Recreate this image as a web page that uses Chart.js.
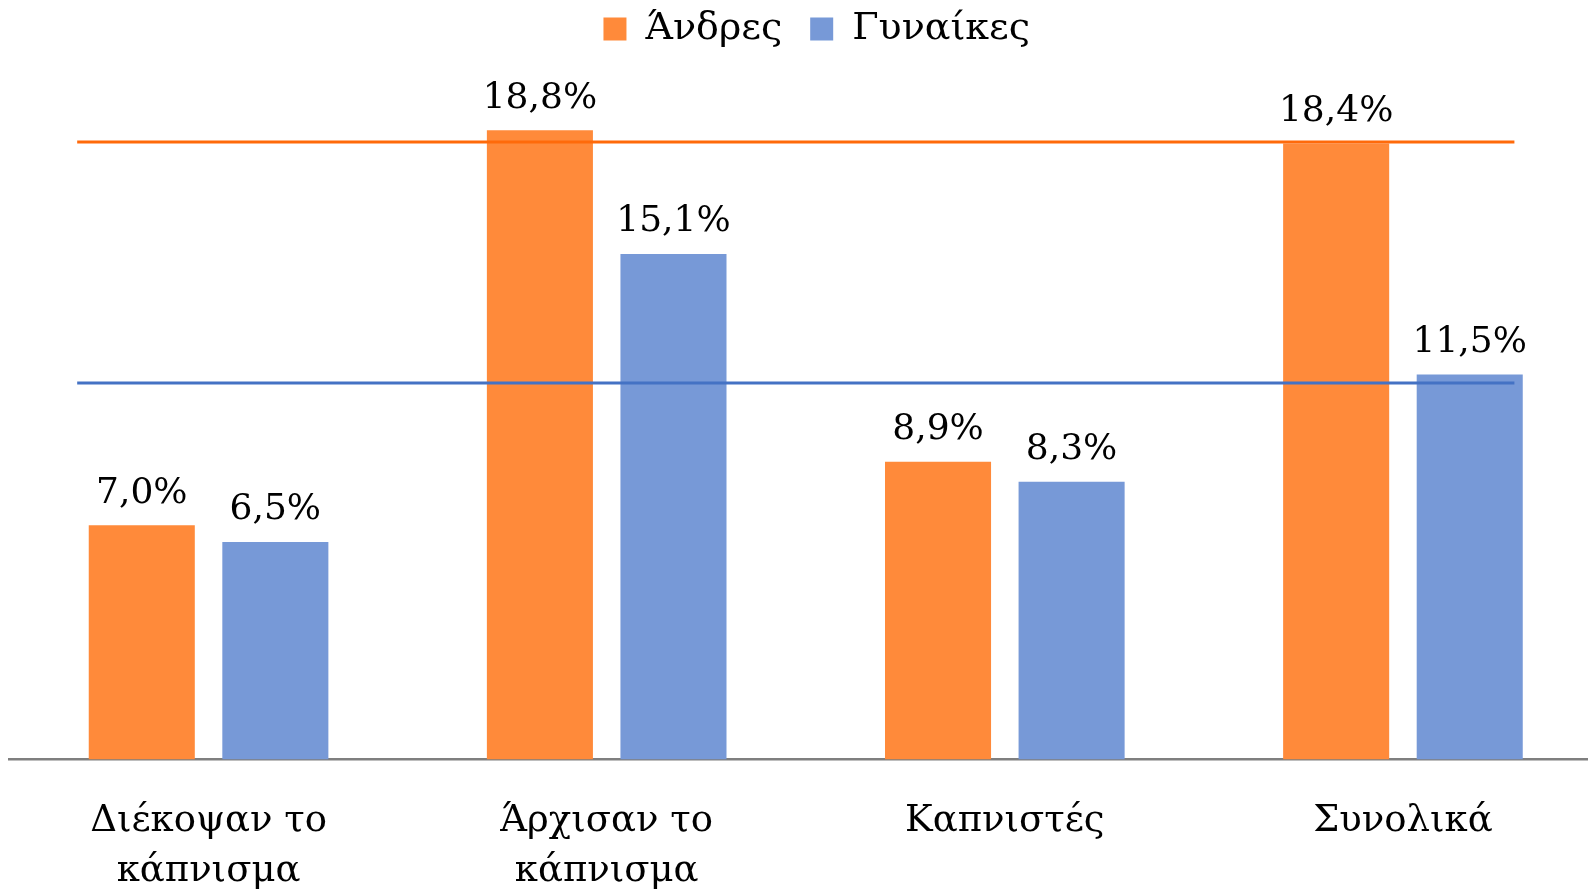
<!DOCTYPE html>
<html>
<head>
<meta charset="utf-8">
<script src="https://cdn.jsdelivr.net/npm/chart.js@4"></script>
<style>
    html, body { margin: 0; padding: 0; background: #fff; overflow: hidden; }
    #wrap { width: 1602px; height: 893px; }
</style>
</head>
<body>
<div id="wrap"><canvas id="smokeChart" width="1602" height="893"></canvas></div>
<script>
const categories = [['Διέκοψαν το', 'κάπνισμα'], ['Άρχισαν το', 'κάπνισμα'], 'Καπνιστές', 'Συνολικά'];
const seriesNames = ['Άνδρες', 'Γυναίκες'];
const menValues = [7.0, 18.8, 8.9, 18.4];
const womenValues = [6.5, 15.1, 8.3, 11.5];
// horizontal reference lines, span given in category units
const menRefLine = 18.45;
const womenRefLine = 11.25;
const refLineFrom = -0.33;
const refLineTo = 3.28;

const serif = '"DejaVu Serif", "Liberation Serif", serif';

function formatPct(v) {
    return v.toFixed(1).replace('.', ',') + '%';
}

const refLines = {
    id: 'refLines',
    afterDatasetsDraw(chart) {
        const ctx = chart.ctx;
        const x = chart.scales.x, y = chart.scales.y;
        const x1 = x.getPixelForValue(refLineFrom);
        const x2 = x.getPixelForValue(refLineTo);
        ctx.save();
        ctx.lineWidth = 3;
        [[menRefLine, '#FF6A0A'], [womenRefLine, '#4472C4']].forEach(([v, col]) => {
            const py = y.getPixelForValue(v);
            ctx.strokeStyle = col;
            ctx.beginPath();
            ctx.moveTo(x1, py);
            ctx.lineTo(x2, py);
            ctx.stroke();
        });
        ctx.restore();
    }
};

const barLabels = {
    id: 'barLabels',
    afterDatasetsDraw(chart) {
        const ctx = chart.ctx;
        ctx.save();
        ctx.font = '36px ' + serif;
        ctx.fillStyle = '#000';
        ctx.textAlign = 'center';
        ctx.textBaseline = 'middle';
        chart.data.datasets.forEach((ds, i) => {
            const meta = chart.getDatasetMeta(i);
            meta.data.forEach((bar, j) => {
                ctx.fillText(formatPct(ds.data[j]), bar.x, bar.y - 32);
            });
        });
        ctx.restore();
    }
};

// fixed legend band height, legend nudged a bit right like the original
const legendHeight = {
    id: 'legendHeight',
    beforeInit(chart) {
        const fit = chart.legend.fit;
        chart.legend.fit = function () {
            fit.call(this);
            this.height = 108;
        };
    },
    afterLayout(chart) {
        chart.legend.left += 11;
        chart.legend.right += 11;
    }
};

new Chart(document.getElementById('smokeChart').getContext('2d'), {
    type: 'bar',
    data: {
        labels: categories,
        datasets: [
            {
                label: seriesNames[0],
                data: menValues,
                backgroundColor: '#FF8A3A',
                categoryPercentage: 0.671,
                barPercentage: 0.794
            },
            {
                label: seriesNames[1],
                data: womenValues,
                backgroundColor: '#7799D7',
                categoryPercentage: 0.671,
                barPercentage: 0.794
            }
        ]
    },
    options: {
        responsive: false,
        animation: false,
        layout: { padding: { left: 9.5, right: 0, top: -18, bottom: 0 } },
        plugins: {
            legend: {
                display: true,
                position: 'top',
                labels: {
                    boxWidth: 23,
                    boxHeight: 23,
                    padding: 28,
                    color: '#000',
                    font: { family: serif, size: 38 }
                }
            },
            tooltip: { enabled: false }
        },
        scales: {
            x: {
                grid: { display: false, drawTicks: false },
                border: { display: true, color: '#7F7F7F', width: 2.5 },
                ticks: {
                    color: '#000',
                    padding: 36,
                    maxRotation: 0,
                    autoSkip: false,
                    font: { family: serif, size: 37, lineHeight: 1.37 }
                },
                afterFit(scale) { scale.height = 133.4; }
            },
            y: {
                display: false,
                min: 0,
                max: 20
            }
        }
    },
    plugins: [refLines, barLabels, legendHeight]
});
</script>
</body>
</html>
